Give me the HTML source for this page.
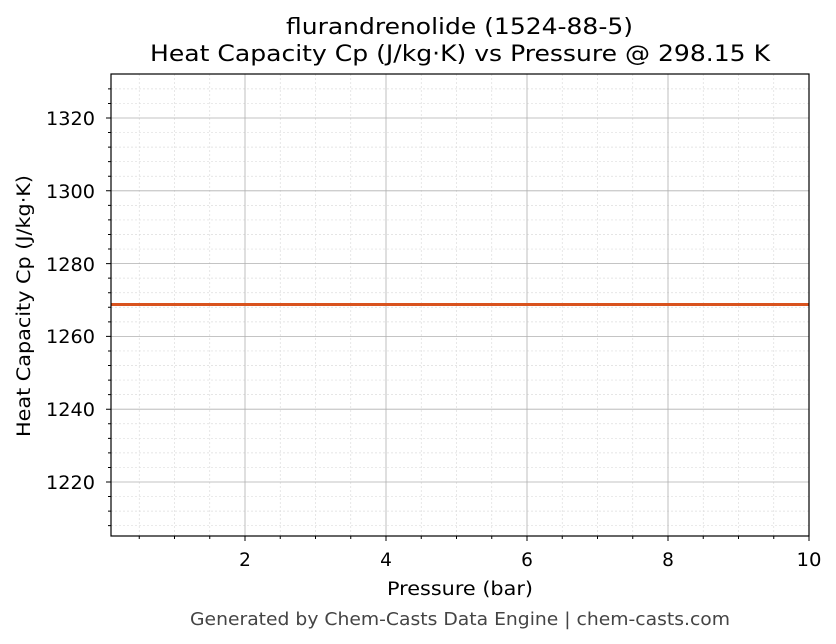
<!DOCTYPE html>
<html><head><meta charset="utf-8"><style>body{margin:0;background:#fff}svg{display:block;font-family:"DejaVu Sans","Liberation Sans",sans-serif}</style></head><body>
<svg width="836" height="644" viewBox="0 0 836 644" xmlns="http://www.w3.org/2000/svg">
<rect width="836" height="644" fill="#fff"/>
<g stroke="#ddd" stroke-width="0.7" stroke-dasharray="2,2">
<path d="M139.25 74V536M174.5 74V536M209.75 74V536M280.25 74V536M315.5 74V536M350.75 74V536M421.25 74V536M456.5 74V536M491.75 74V536M562.25 74V536M597.5 74V536M632.75 74V536M703.25 74V536M738.5 74V536M773.75 74V536"/>
<path d="M111 88.88H809M111 103.44H809M111 132.56H809M111 147.12H809M111 161.68H809M111 176.24H809M111 205.36H809M111 219.92H809M111 234.48H809M111 249.04H809M111 278.16H809M111 292.72H809M111 307.28H809M111 321.84H809M111 350.96H809M111 365.52H809M111 380.08H809M111 394.64H809M111 423.76H809M111 438.32H809M111 452.88H809M111 467.44H809M111 496.56H809M111 511.12H809M111 525.68H809"/>
</g>
<g stroke="#b0b0b0" stroke-width="0.8">
<path d="M245 74V536M386 74V536M527 74V536M668 74V536"/>
<path d="M111 118H809M111 190.8H809M111 263.6H809M111 336.4H809M111 409.2H809M111 482H809"/>
</g>
<line x1="111" y1="304.5" x2="809" y2="304.5" stroke="#d9531e" stroke-width="3"/>
<rect x="111" y="74" width="698" height="462" fill="none" stroke="#000" stroke-width="1.2"/>
<g stroke="#000" stroke-width="1">
<path d="M245 536v5M386 536v5M527 536v5M668 536v5M809 536v5"/>
<path d="M139.25 536v3M174.5 536v3M209.75 536v3M280.25 536v3M315.5 536v3M350.75 536v3M421.25 536v3M456.5 536v3M491.75 536v3M562.25 536v3M597.5 536v3M632.75 536v3M703.25 536v3M738.5 536v3M773.75 536v3"/>
<path d="M111 118h-5M111 190.8h-5M111 263.6h-5M111 336.4h-5M111 409.2h-5M111 482h-5"/>
<path d="M111 88.88h-3M111 103.44h-3M111 132.56h-3M111 147.12h-3M111 161.68h-3M111 176.24h-3M111 205.36h-3M111 219.92h-3M111 234.48h-3M111 249.04h-3M111 278.16h-3M111 292.72h-3M111 307.28h-3M111 321.84h-3M111 350.96h-3M111 365.52h-3M111 380.08h-3M111 394.64h-3M111 423.76h-3M111 438.32h-3M111 452.88h-3M111 467.44h-3M111 496.56h-3M111 511.12h-3M111 525.68h-3"/>
</g>
<g font-size="18.5" fill="#000" text-anchor="middle">
<text x="245" y="566">2</text><text x="386" y="566">4</text><text x="527" y="566">6</text><text x="668" y="566">8</text><text x="809" y="566" textLength="25" lengthAdjust="spacingAndGlyphs">10</text>
</g>
<g font-size="19" fill="#000" text-anchor="end">
<text x="95" y="125" textLength="49" lengthAdjust="spacingAndGlyphs">1320</text>
<text x="95" y="198" textLength="49" lengthAdjust="spacingAndGlyphs">1300</text>
<text x="95" y="271" textLength="49" lengthAdjust="spacingAndGlyphs">1280</text>
<text x="95" y="343" textLength="49" lengthAdjust="spacingAndGlyphs">1260</text>
<text x="95" y="416" textLength="49" lengthAdjust="spacingAndGlyphs">1240</text>
<text x="95" y="489" textLength="49" lengthAdjust="spacingAndGlyphs">1220</text>
</g>
<text x="387" y="595" font-size="18.5" textLength="146" lengthAdjust="spacingAndGlyphs">Pressure (bar)</text>
<text transform="translate(30,437) rotate(-90)" font-size="18.5" textLength="262" lengthAdjust="spacingAndGlyphs">Heat Capacity Cp (J/kg·K)</text>
<text x="286" y="34" font-size="22.5" textLength="347" lengthAdjust="spacingAndGlyphs">flurandrenolide (1524-88-5)</text>
<text x="150" y="61" font-size="22.5" textLength="620" lengthAdjust="spacingAndGlyphs">Heat Capacity Cp (J/kg·K) vs Pressure @ 298.15 K</text>
<text x="190" y="625" font-size="17.5" fill="#444" textLength="540" lengthAdjust="spacingAndGlyphs">Generated by Chem-Casts Data Engine | chem-casts.com</text>
</svg>
</body></html>
